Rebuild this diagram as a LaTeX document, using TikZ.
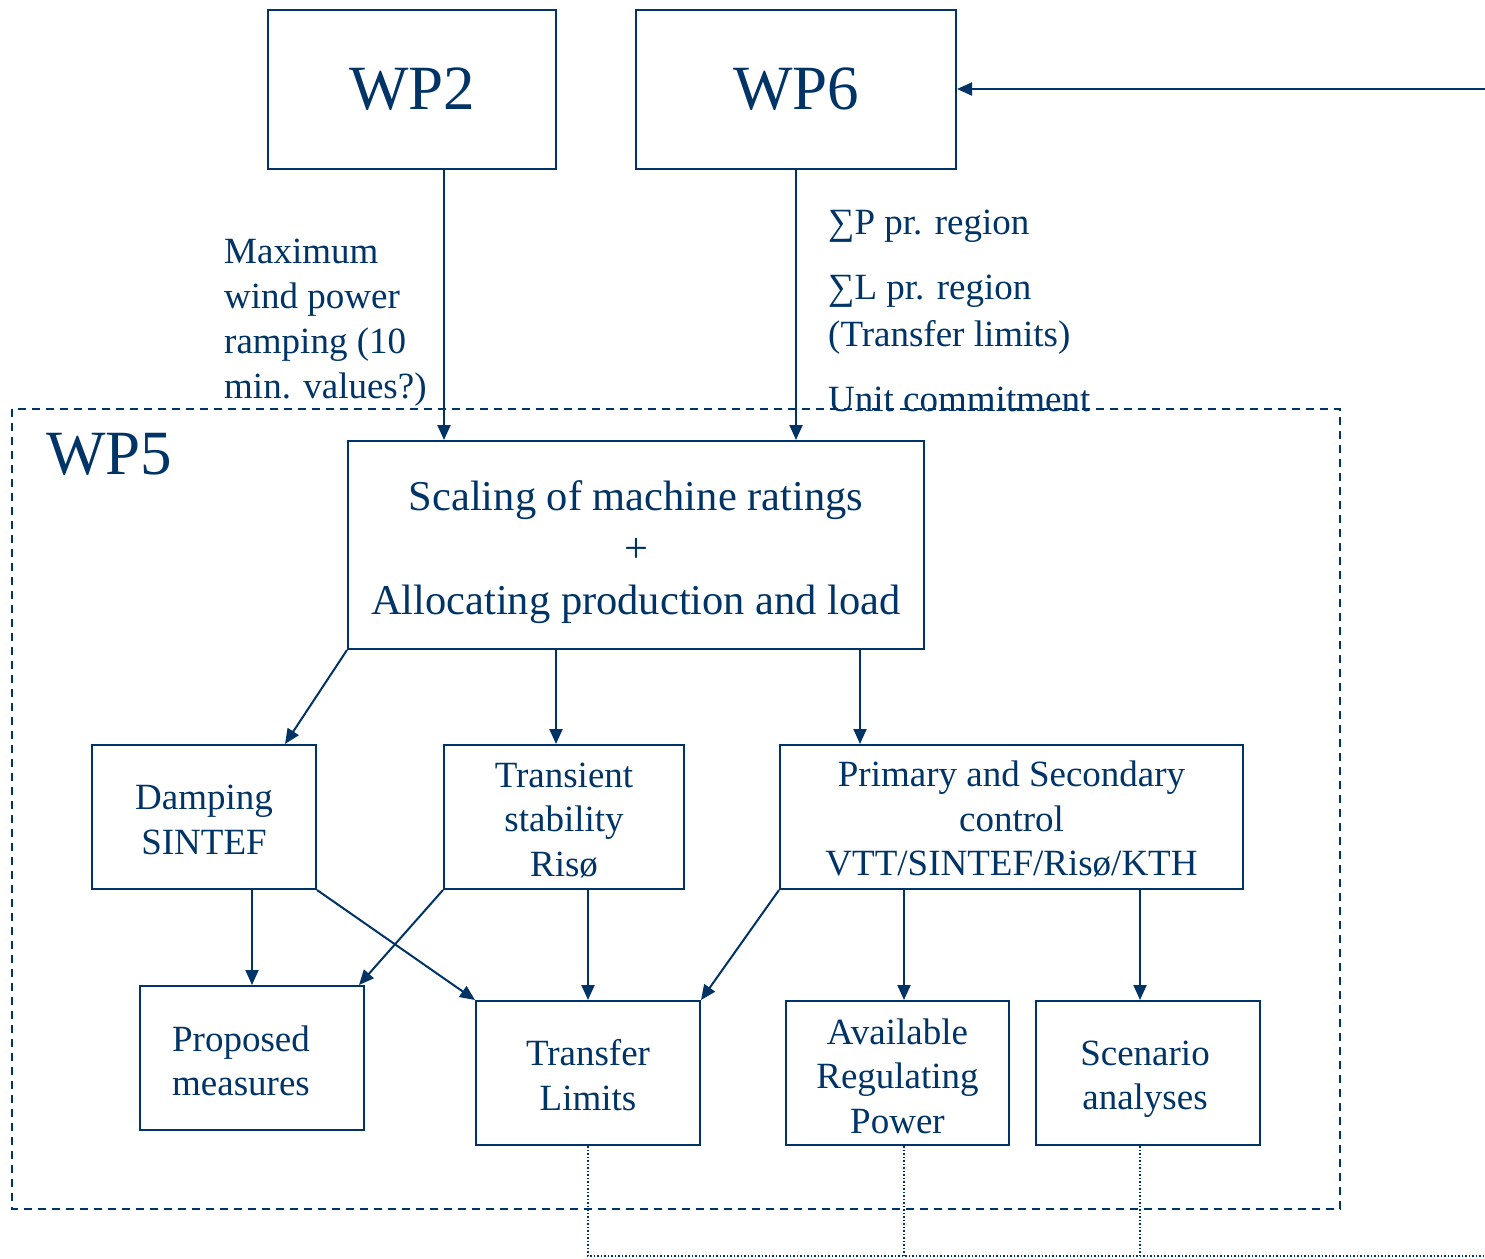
\documentclass[tikz,border=0pt]{standalone}
\usepackage{fontspec}
\setmainfont{Liberation Serif}
\usetikzlibrary{arrows.meta,calc}
\definecolor{navy}{RGB}{0,51,102}
\begin{document}
\begin{tikzpicture}[x=1pt,y=-1pt,
  every node/.style={text=navy},
  wpbox/.style={draw=navy,line width=2pt,inner sep=0pt,font=\fontsize{63}{70}\selectfont},
  box/.style={draw=navy,line width=2pt,inner sep=0pt,align=center,font=\fontsize{37}{44.5}\selectfont},
  btxt/.style={inner sep=0pt,align=center,font=\fontsize{37}{44.5}\selectfont},
  lbl/.style={inner sep=0pt,font=\fontsize{37}{45}\selectfont},
  conn/.style={draw=navy,line width=2pt,-{Triangle[length=15pt,width=13pt]}},
  dots/.style={draw=navy,line width=1.5pt,dotted},
]
\useasboundingbox (0,0) rectangle (1485,1258);
% WP5 dashed frame
\draw[navy,line width=2pt,dash pattern=on 8pt off 6pt] (12,409) rectangle (1340,1209);
\node[anchor=base west,inner sep=0pt,font=\fontsize{63}{70}\selectfont] (wp5) at (46,474) {WP5};

% top boxes
\node[wpbox,minimum width=288,minimum height=159] (wp2) at (412,89.5) {WP2};
\node[wpbox,minimum width=320,minimum height=159] (wp6) at (796,89.5) {WP6};
\coordinate (ext) at (1485,89);
\draw[conn] (ext) -- (wp6.east |- ext);

% scaling box
\node[box,minimum width=576,minimum height=208,font=\fontsize{42.5}{52}\selectfont,
  label={[btxt,font=\fontsize{42.5}{52}\selectfont,yshift=-7]center:{Scaling of machine ratings\\+\\Allocating production and load}}] (scal) at (636,545) {};

\draw[conn] (wp2.south -| 444,0) -- (scal.north -| 444,0);
\draw[conn] (wp6.south) -- (scal.north -| wp6.south);

% labels
\node[lbl,anchor=north west,align=left] (maxlbl) at (224,239)
  {Maximum\\wind power\\ramping (10\\min. values?)};
\node[lbl,anchor=base west] (sp) at (828,234) {∑P pr. region};
\node[lbl,anchor=base west] (sl) at (828,299) {∑L pr. region};
\node[lbl,anchor=base west] (tl) at (828,346) {(Transfer limits)};
\node[lbl,anchor=base west] (uc) at (828,411) {Unit commitment};

% middle row
\node[box,minimum width=224,minimum height=144,
  label={[btxt,yshift=-3]center:{Damping\\SINTEF}}] (damp) at (204,817) {};
\node[box,minimum width=240,minimum height=144,
  label={[btxt,yshift=-3]center:{Transient\\stability\\Risø}}] (trans) at (564,817) {};
\node[box,minimum width=463,minimum height=144,
  label={[btxt,yshift=-2]center:{Primary and Secondary\\control\\VTT/SINTEF/Risø/KTH}}] (prim) at (1011.5,817) {};

% bottom row
\node[box,minimum width=224,minimum height=144,
  label={[btxt,xshift=-11,yshift=-3]center:{Proposed\\measures}}] (prop) at (252,1058) {};
\node[box,minimum width=224,minimum height=144,
  label={[btxt,yshift=-2]center:{Transfer\\Limits}}] (tlim) at (588,1073) {};
\node[box,minimum width=223,minimum height=144,
  label={[btxt,yshift=-3]center:{Available\\Regulating\\Power}}] (avail) at (897.5,1073) {};
\node[box,minimum width=224,minimum height=144,
  label={[btxt,xshift=-3,yshift=-6]center:{Scenario\\analyses}}] (scen) at (1148,1073) {};

% arrows from scaling
\draw[conn] (scal.south west) -- ([xshift=194]damp.north west);
\draw[conn] (scal.south -| 556,0) -- (trans.north -| 556,0);
\draw[conn] (scal.south -| 860,0) -- (prim.north -| 860,0);

% arrows from damping
\draw[conn] (damp.south -| 252,0) -- (prop.north -| 252,0);
\draw[conn] (damp.south east) -- (tlim.north west);
% from transient
\draw[conn] (trans.south west) -- ([xshift=-6]prop.north east);
\draw[conn] (trans.south -| tlim.north) -- (tlim.north);
% from primary
\draw[conn] (prim.south west) -- (tlim.north east);
\draw[conn] (prim.south -| 904,0) -- (avail.north -| 904,0);
\draw[conn] (prim.south -| 1140,0) -- (scen.north -| 1140,0);

% dotted lines
\coordinate (dend) at (1485,1256);
\draw[dots] (tlim.south) -- (tlim.south |- dend) -- (dend);
\draw[dots] (avail.south -| 904,0) -- (904,1256);
\draw[dots] (scen.south -| 1140,0) -- (1140,1256);
\end{tikzpicture}
\end{document}
